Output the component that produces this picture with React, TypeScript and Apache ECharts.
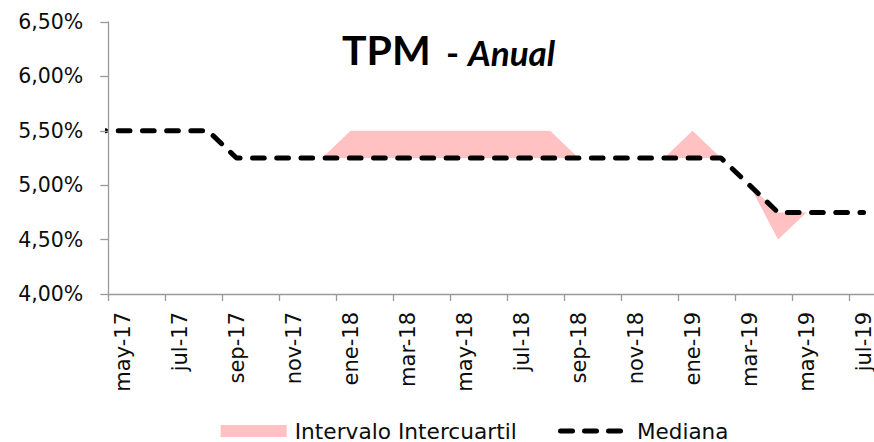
import React, { useEffect, useRef } from "react";
import * as echarts from "echarts";

// Months of the series (first one sits just before the visible axis start)
const months = [
  "abr-17", "may-17", "jun-17", "jul-17", "ago-17", "sep-17", "oct-17", "nov-17", "dic-17",
  "ene-18", "feb-18", "mar-18", "abr-18", "may-18", "jun-18", "jul-18", "ago-18", "sep-18",
  "oct-18", "nov-18", "dic-18", "ene-19", "feb-19", "mar-19", "abr-19", "may-19", "jun-19", "jul-19",
];

const median = [
  5.5, 5.5, 5.5, 5.5, 5.5,
  5.25, 5.25, 5.25, 5.25, 5.25, 5.25, 5.25, 5.25, 5.25, 5.25, 5.25, 5.25, 5.25, 5.25, 5.25, 5.25, 5.25, 5.25,
  5.0, 4.75, 4.75, 4.75, 4.75,
];

const upper = [
  5.5, 5.5, 5.5, 5.5, 5.5,
  5.25, 5.25, 5.25, 5.25,
  5.5, 5.5, 5.5, 5.5, 5.5, 5.5, 5.5, 5.5,
  5.25, 5.25, 5.25, 5.25,
  5.5, 5.25,
  5.0, 4.75, 4.75, 4.75, 4.75,
];

const lower = [
  5.5, 5.5, 5.5, 5.5, 5.5,
  5.25, 5.25, 5.25, 5.25, 5.25, 5.25, 5.25, 5.25, 5.25, 5.25, 5.25, 5.25, 5.25, 5.25, 5.25, 5.25, 5.25, 5.25,
  5.0, 4.5, 4.75, 4.75, 4.75,
];

const yTicks = { min: 4.0, max: 6.5, step: 0.5 };

const titleMain = "TPM";
const titleSep = "-";
const titleSub = "Anual";
const bandName = "Intervalo Intercuartil";
const medianName = "Mediana";

const dashIcon =
  "path://M2.5,0H14.5A2.5,2.5,0,0,1,14.5,5H2.5A2.5,2.5,0,0,1,2.5,0Z" +
  "M26.5,0H38.5A2.5,2.5,0,0,1,38.5,5H26.5A2.5,2.5,0,0,1,26.5,0Z" +
  "M50.5,0H62.5A2.5,2.5,0,0,1,62.5,5H50.5A2.5,2.5,0,0,1,50.5,0Z";

export default function App() {
  const ref = useRef<HTMLDivElement>(null);

  useEffect(() => {
    if (!ref.current) return;
    const chart = echarts.init(ref.current, undefined, { renderer: "svg" });

    const axisMonths = months.slice(1);
    const xs = months.map((_, i) => i - 1);
    const medianData = xs.map((x, i) => [x, median[i]]);
    // band drawn on the category axis (visible months only)
    const lowerVisible = lower.slice(1);
    const spreadVisible = upper.slice(1).map((u, i) => +(u - lowerVisible[i]).toFixed(4));

    const axisColor = "#9a9a9a";
    const textColor = "#0d0d0d";
    const font = "DejaVu Sans";
    const pink = "#ffc1c1";

    chart.setOption({
      animation: false,
      backgroundColor: "#ffffff",
      title: [
        {
          text: titleMain,
          left: 342,
          top: 28.6,
          padding: 0,
          textStyle: { fontFamily: "Lato", fontWeight: "bold", fontSize: 41, color: "#000" },
        },
        {
          text: titleSep,
          left: 446,
          top: 34.5,
          padding: 0,
          textStyle: { fontFamily: "Lato", fontWeight: "bold", fontSize: 35, color: "#000" },
        },
        {
          text: titleSub,
          left: 468,
          top: 34.5,
          padding: 0,
          textStyle: {
            fontFamily: "Lato",
            fontWeight: "bold",
            fontStyle: "italic",
            fontSize: 35,
            color: "#000",
          },
        },
      ],
      grid: {
        left: 108.3,
        right: -3.8,
        top: 22,
        bottom: 148,
        containLabel: false,
        outerBoundsMode: "none",
      },
      xAxis: [
        {
          type: "category",
          data: axisMonths,
          boundaryGap: true,
          axisLine: { lineStyle: { color: axisColor, width: 1.3 } },
          axisTick: {
            show: true,
            interval: 1,
            length: 7,
            lineStyle: { color: axisColor, width: 1.3 },
          },
          axisLabel: {
            interval: 1,
            rotate: 90,
            margin: 18,
            color: textColor,
            fontFamily: font,
            fontSize: 21,
            lineHeight: 17,
          },
          splitLine: { show: false },
          z: 5,
        },
        {
          type: "value",
          min: -0.5,
          max: axisMonths.length - 0.5,
          show: false,
          splitLine: { show: false },
        },
      ],
      yAxis: {
        type: "value",
        min: yTicks.min,
        max: yTicks.max,
        interval: yTicks.step,
        axisLine: { show: true, onZero: false, lineStyle: { color: axisColor, width: 1.3 } },
        axisTick: { show: true, length: 8, lineStyle: { color: axisColor, width: 1.3 } },
        splitLine: { show: false },
        axisLabel: {
          margin: 25,
          color: textColor,
          fontFamily: font,
          fontSize: 20.5,
          formatter: (v: number) => v.toFixed(2).replace(".", ",") + "%",
        },
        z: 5,
      },
      legend: [
        {
          data: [{ name: bandName, icon: "rect" }],
          left: 220.7,
          top: 420,
          padding: 0,
          itemWidth: 66,
          itemHeight: 12,
          selectedMode: false,
          textStyle: {
            color: textColor,
            fontFamily: font,
            fontSize: 21.7,
            lineHeight: 19,
            padding: [0, 0, 0, 3],
          },
        },
        {
          data: [{ name: medianName, icon: dashIcon }],
          left: 558,
          top: 420,
          padding: 0,
          itemWidth: 65,
          itemHeight: 5,
          selectedMode: false,
          textStyle: {
            color: textColor,
            fontFamily: font,
            fontSize: 21.5,
            lineHeight: 19,
            padding: [0, 0, 0, 9],
          },
        },
      ],
      series: [
        {
          name: "lower",
          type: "line",
          xAxisIndex: 0,
          stack: "band",
          data: lowerVisible,
          symbol: "none",
          silent: true,
          lineStyle: { opacity: 0, width: 0 },
          itemStyle: { color: "transparent" },
          z: 1,
        },
        {
          name: bandName,
          type: "line",
          xAxisIndex: 0,
          stack: "band",
          data: spreadVisible,
          symbol: "none",
          silent: true,
          lineStyle: { opacity: 0, width: 0 },
          itemStyle: { color: pink },
          areaStyle: { color: pink, opacity: 1 },
          z: 1.5,
        },
        {
          name: medianName,
          type: "line",
          xAxisIndex: 1,
          data: medianData,
          symbol: "none",
          silent: true,
          itemStyle: { color: "#000000" },
          lineStyle: {
            color: "#000000",
            width: 5,
            type: [11.7, 12.5],
            cap: "round",
            join: "round",
          },
          clip: true,
          z: 3,
        },
      ],
    });

    return () => chart.dispose();
  }, []);

  return (
    <div
      ref={ref}
      style={{ position: "fixed", left: 0, top: 0, width: 874, height: 442 }}
    />
  );
}
